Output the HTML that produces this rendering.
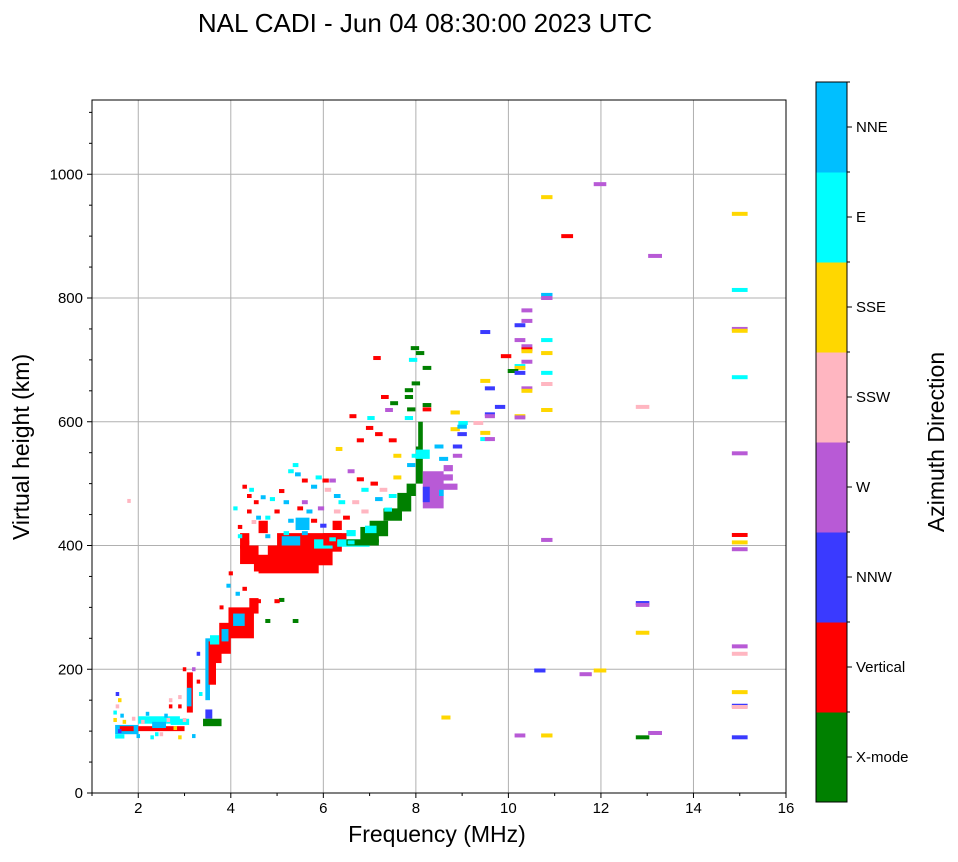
<!DOCTYPE html>
<html><head><meta charset="utf-8">
<style>
body{margin:0;background:#fff;font-family:"Liberation Sans",sans-serif;}
svg text{font-family:"Liberation Sans",sans-serif;}
</style></head>
<body>
<svg id="chart" width="958" height="857" viewBox="0 0 958 857" xmlns="http://www.w3.org/2000/svg">
<rect width="958" height="857" fill="#fff"/>
<text x="425" y="32" font-size="26" text-anchor="middle">NAL CADI - Jun 04 08:30:00 2023 UTC</text>
<g id="grid"></g>
<g id="marks"></g>
<g id="axes"></g>
<g id="cbar"></g>
<text x="437" y="842" font-size="23" text-anchor="middle">Frequency (MHz)</text>
<text transform="translate(29,447) rotate(-90)" font-size="23" text-anchor="middle">Virtual height (km)</text>
<text transform="translate(944,442) rotate(-90)" font-size="23" text-anchor="middle">Azimuth Direction</text>
</svg>
<script>
const xTicks=[2,4,6,8,10,12,14,16];
const yTicks=[0,200,400,600,800,1000];
const catNames=["X-mode","Vertical","NNW","W","SSW","SSE","E","NNE"];
const catColors=["#008000","#ff0000","#3a3aff","#b85ad6","#ffb6c1","#ffd700","#00ffff","#00bfff"];
// point marks
const ptFreq=[11.98,10.83,11.27,13.17,15,15,10.83,10.83,15,15,15,15,12.9,10.4,10.4,10.25,9.5,10.25,10.83,10.4,10.4,10.4,10.83,9.95,10.4,10.25,10.25,10.1,10.25,10.83,9.5,10.83,9.6,10.4,10.4,9.82,10.83,9.6,9.6,10.25,10.25,9.5,9.5,9.6,10.83,15,15,15,12.9,12.9,12.9,15,15,10.68,11.67,11.98,15,15,15,10.25,10.83,12.9,13.17,15,8.65,1.8,
9.02,8.85,9.0,9.35,8.85,9.0,7.98,8.09,8.24,8.0,7.85,7.85,7.53,7.9,8.24,8.24,7.16,7.94,7.33,7.42,6.64,7.03,7.85,6.34,7.0,7.2,7.5,6.8,7.6,8.5,8.9,8.9,8.6,
1.55,1.6,1.55,1.5,1.5,1.65,2.0,2.3,2.5,2.9,3.2,2.7,2.7,2.9,2.9,2.65,3.0,3.3,3.2,3.3,3.35,1.7,1.9,2.2,2.4,2.6,2.8,3.0,1.6,2.1,
4.3,4.45,4.55,4.7,4.9,5.1,5.3,5.4,5.45,5.6,5.8,5.9,6.05,6.2,6.1,6.6,6.8,6.9,7.1,7.3,7.2,7.5,6.4,6.7,6.3,5.95,5.7,5.5,5.2,5.0,4.8,4.6,4.4,4.2,4.2,4.35,4.5,5.3,5.8,6.0,6.5,6.9,7.4,7.6,7.9,8.0,4.8,5.2,5.6,6.2,6.6,4.0,3.95,4.3,4.15,4.6,5.1,5.4,4.8,5.0,3.8,4.1,5.6,6.3,4.4];
const ptHeight=[984,963,900,868,936,813,805,800,750,747,672,549,624,780,763,756,745,732,732,722,717,714,711,706,697,690,687,682,679,679,666,661,654,654,650,624,619,612,609,609,607,582,572,572,409,417,405,394,307,304,259,237,225,198,192,198,163,141,139,93,93,90,97,90,122,472,
598,588,580,598,615,592,719,711,687,662,651,640,630,620,627,620,703,700,640,619,609,606,606,556,590,580,570,570,545,560,560,545,540,
160,150,140,130,118,125,92,90,95,90,92,150,140,155,140,118,200,225,200,180,160,115,120,128,95,125,105,118,100,115,
495,490,470,478,475,488,520,530,515,505,495,510,505,505,490,520,507,490,500,490,475,480,470,470,455,460,455,460,470,455,445,445,455,430,415,405,438,440,440,432,445,455,458,510,530,545,415,420,420,410,405,355,335,330,322,310,312,278,278,310,300,460,470,480,480];
const ptCat=[3,5,1,3,5,6,7,3,3,5,6,3,4,3,3,2,2,3,6,3,1,5,5,1,3,6,5,0,2,6,5,4,2,3,5,2,5,2,3,5,3,5,6,3,3,1,5,3,2,3,5,3,4,2,3,5,5,2,4,3,5,0,3,2,5,4,
6,5,2,4,5,7,0,0,0,0,0,0,0,0,0,1,1,6,1,3,1,6,6,5,1,1,1,1,5,7,2,3,7,
2,5,4,6,5,7,7,6,4,5,7,4,1,4,1,4,1,2,3,1,6,5,4,7,6,7,5,4,2,4,
1,6,1,7,6,1,6,6,7,1,7,6,1,3,4,3,1,6,1,4,7,6,6,4,4,3,7,1,7,1,6,7,1,1,6,1,4,7,1,2,1,4,6,5,7,6,7,6,7,6,6,1,7,1,7,1,0,0,0,1,1,6,3,7,1];
// filled patches: frequency range, height range, category
const pF0=[1.5,1.6,2.0,2.0,2.3,2.7,1.5,3.05,3.05,3.45,3.4,3.45,3.52,3.55,3.6,3.75,3.8,3.95,4.05,4.4,4.5,4.2,4.6,4.8,5.0,4.2,5.1,5.8,6.0,6.3,6.5,6.8,7.0,7.3,7.6,7.8,6.5,6.9,8.0,8.05,8.15,8.15,8.4,8.5,8.6,8.0,8.5,4.6,5.4,6.2];
const pF1=[2.0,1.9,3.0,2.9,2.6,3.1,1.7,3.18,3.15,3.6,3.8,3.55,3.68,3.75,3.8,4.0,3.95,4.5,4.3,4.6,5.0,4.6,5.9,6.2,6.4,4.4,5.5,6.2,6.5,7.0,7.2,7.2,7.4,7.7,7.9,8.0,6.7,7.15,8.15,8.15,8.6,8.3,8.9,8.8,8.8,8.3,8.6,4.8,5.7,6.4];
const pH0=[95,100,100,112,105,110,88,130,140,120,108,150,175,240,210,225,245,250,270,290,358,370,355,368,390,395,400,395,400,398,400,405,415,440,455,480,415,420,500,560,460,470,490,505,520,540,480,420,425,425];
const pH1=[110,108,108,124,115,120,95,195,170,135,120,250,245,255,240,275,265,300,290,315,385,400,372,400,420,420,415,410,420,410,410,430,440,460,485,500,425,432,560,600,520,495,500,515,530,555,490,440,445,440];
const pC=[7,1,1,6,7,6,6,1,7,2,0,7,1,6,1,1,7,1,7,1,1,1,1,1,1,1,7,6,1,6,0,0,0,0,0,0,6,6,0,0,3,2,3,3,3,6,7,1,7,1];

const X0=92,X1=786,Y0=793,Y1=100;
const fx=f=>X0+(f-1)*(X1-X0)/15;
const fy=h=>Y0-(h)*(Y0-Y1)/1120;
const NS="http://www.w3.org/2000/svg";
function mk(tag,attrs,parent){const e=document.createElementNS(NS,tag);for(const k in attrs)e.setAttribute(k,attrs[k]);parent.appendChild(e);return e;}
const grid=document.getElementById('grid'),marks=document.getElementById('marks'),axes=document.getElementById('axes'),cbar=document.getElementById('cbar');
xTicks.forEach(t=>{if(t<16){const l=mk('line',{x1:fx(t),x2:fx(t),y1:Y1,y2:Y0,stroke:'#b0b0b0','stroke-width':1},grid);

}});
yTicks.forEach(t=>{if(t>0){const l=mk('line',{x1:X0,x2:X1,y1:fy(t),y2:fy(t),stroke:'#b0b0b0','stroke-width':1},grid);

}});
for(let i=0;i<pF0.length;i++){
 const r=mk('rect',{x:fx(pF0[i]),y:fy(pH1[i]),width:fx(pF1[i])-fx(pF0[i]),height:fy(pH0[i])-fy(pH1[i]),fill:catColors[pC[i]]},marks);
 
 
}
for(let i=0;i<ptFreq.length;i++){
 const f=ptFreq[i];const w=Math.max(3.5,f*1.05);
 const r=mk('rect',{x:fx(f)-w/2,y:fy(ptHeight[i])-2,width:w,height:4,fill:catColors[ptCat[i]]},marks);
 
 
}
const fr=mk('rect',{x:X0,y:Y1,width:X1-X0,height:Y0-Y1,fill:'none',stroke:'#000','stroke-width':1},axes);


for(let f=1;f<=16;f++){if(f%2===1){mk('line',{x1:fx(f),x2:fx(f),y1:Y0,y2:Y0+3,stroke:'#000'},axes);}}
for(let h=50;h<1120;h+=50){if(h%200!==0){mk('line',{x1:X0,x2:X0-3,y1:fy(h),y2:fy(h),stroke:'#000'},axes);}}
xTicks.forEach(t=>{mk('line',{x1:fx(t),x2:fx(t),y1:Y0,y2:Y0+5,stroke:'#000'},axes);
 const tx=mk('text',{x:fx(t),y:Y0+20,'font-size':15,'text-anchor':'middle'},axes);tx.textContent=t;
 
 });
yTicks.forEach(t=>{mk('line',{x1:X0,x2:X0-5,y1:fy(t),y2:fy(t),stroke:'#000'},axes);
 const tx=mk('text',{x:X0-9,y:fy(t)+5,'font-size':15,'text-anchor':'end'},axes);tx.textContent=t;
 
 });
const CX=816,CW=31,CT=82,CB=802,ch=(CB-CT)/catNames.length;
catNames.forEach((n,i)=>{const y=CB-(i+1)*ch;
 const r=mk('rect',{x:CX,y:y,width:CW,height:ch+0.5,fill:catColors[i]},cbar);
 
 
 mk('line',{x1:CX+CW,x2:CX+CW+5,y1:y+ch/2,y2:y+ch/2,stroke:'#000'},cbar);
 mk('line',{x1:CX+CW,x2:CX+CW+3,y1:y,y2:y,stroke:'#000'},cbar);
 const t=mk('text',{x:CX+CW+9,y:y+ch/2+5,'font-size':15},cbar);t.textContent=n;
 
 });
const cf=mk('rect',{x:CX,y:CT,width:CW,height:CB-CT,fill:'none',stroke:'#000','stroke-width':1},cbar);


</script>
</body></html>
